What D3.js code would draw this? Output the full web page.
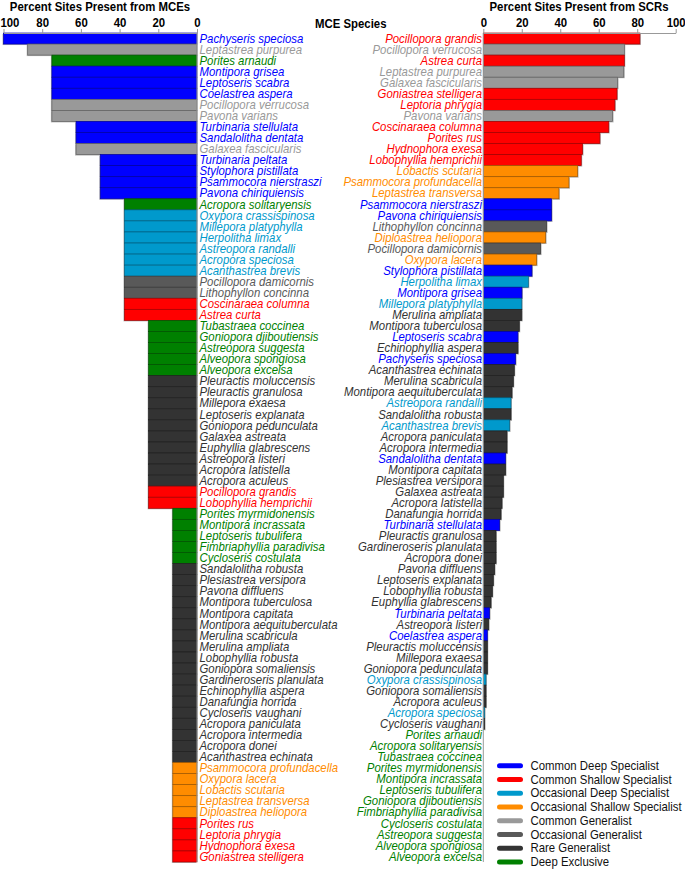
<!DOCTYPE html>
<html>
<head>
<meta charset="utf-8">
<script src="https://cdn.jsdelivr.net/npm/d3@7"></script>
<style>
  html, body { margin: 0; padding: 0; background: #fff; }
  svg { display: block; font-family: "Liberation Sans", Arial, sans-serif; }
</style>
</head>
<body>
<script>
// ---------- DATA ----------
const categories = ["Common Deep Specialist", "Common Shallow Specialist", "Occasional Deep Specialist",
  "Occasional Shallow Specialist", "Common Generalist", "Occasional Generalist", "Rare Generalist", "Deep Exclusive"];
const categoryCodes = ["CDS", "CSS", "ODS", "OSS", "CG", "OG", "RG", "DE"];
const categoryColors = ["#0000FF", "#FF0000", "#0099CC", "#FF8C00", "#999999", "#595959", "#333333", "#008000"];

const tickValues = [0, 20, 40, 60, 80, 100];

const mceSpecies = [
  "Pachyseris speciosa", "Leptastrea purpurea", "Porites arnaudi", "Montipora grisea", "Leptoseris scabra",
  "Coelastrea aspera", "Pocillopora verrucosa", "Pavona varians", "Turbinaria stellulata", "Sandalolitha dentata",
  "Galaxea fascicularis", "Turbinaria peltata", "Stylophora pistillata", "Psammocora nierstraszi", "Pavona chiriquiensis",
  "Acropora solitaryensis", "Oxypora crassispinosa", "Millepora platyphylla", "Herpolitha limax", "Astreopora randalli",
  "Acropora speciosa", "Acanthastrea brevis", "Pocillopora damicornis", "Lithophyllon concinna", "Coscinaraea columna",
  "Astrea curta", "Tubastraea coccinea", "Goniopora djiboutiensis", "Astreopora suggesta", "Alveopora spongiosa",
  "Alveopora excelsa", "Pleuractis moluccensis", "Pleuractis granulosa", "Millepora exaesa", "Leptoseris explanata",
  "Goniopora pedunculata", "Galaxea astreata", "Euphyllia glabrescens", "Astreopora listeri", "Acropora latistella",
  "Acropora aculeus", "Pocillopora grandis", "Lobophyllia hemprichii", "Porites myrmidonensis", "Montipora incrassata",
  "Leptoseris tubulifera", "Fimbriaphyllia paradivisa", "Cycloseris costulata", "Sandalolitha robusta", "Plesiastrea versipora",
  "Pavona diffluens", "Montipora tuberculosa", "Montipora capitata", "Montipora aequituberculata", "Merulina scabricula",
  "Merulina ampliata", "Lobophyllia robusta", "Goniopora somaliensis", "Gardineroseris planulata", "Echinophyllia aspera",
  "Danafungia horrida", "Cycloseris vaughani", "Acropora paniculata", "Acropora intermedia", "Acropora donei",
  "Acanthastrea echinata", "Psammocora profundacella", "Oxypora lacera", "Lobactis scutaria", "Leptastrea transversa",
  "Diploastrea heliopora", "Porites rus", "Leptoria phrygia", "Hydnophora exesa", "Goniastrea stelligera"
];
const mceValues = [
  100, 87.5, 75, 75, 75, 75, 75, 75, 62.5, 62.5,
  62.5, 50, 50, 50, 50, 37.5, 37.5, 37.5, 37.5, 37.5,
  37.5, 37.5, 37.5, 37.5, 37.5, 37.5, 25, 25, 25, 25,
  25, 25, 25, 25, 25, 25, 25, 25, 25, 25,
  25, 25, 25, 12.5, 12.5, 12.5, 12.5, 12.5, 12.5, 12.5,
  12.5, 12.5, 12.5, 12.5, 12.5, 12.5, 12.5, 12.5, 12.5, 12.5,
  12.5, 12.5, 12.5, 12.5, 12.5, 12.5, 12.5, 12.5, 12.5, 12.5,
  12.5, 12.5, 12.5, 12.5, 12.5
];
const mceGroups = [
  "CDS", "CG", "DE", "CDS", "CDS", "CDS", "CG", "CG", "CDS", "CDS",
  "CG", "CDS", "CDS", "CDS", "CDS", "DE", "ODS", "ODS", "ODS", "ODS",
  "ODS", "ODS", "OG", "OG", "CSS", "CSS", "DE", "DE", "DE", "DE",
  "DE", "RG", "RG", "RG", "RG", "RG", "RG", "RG", "RG", "RG",
  "RG", "CSS", "CSS", "DE", "DE", "DE", "DE", "DE", "RG", "RG",
  "RG", "RG", "RG", "RG", "RG", "RG", "RG", "RG", "RG", "RG",
  "RG", "RG", "RG", "RG", "RG", "RG", "OSS", "OSS", "OSS", "OSS",
  "OSS", "CSS", "CSS", "CSS", "CSS"
];

const scrSpecies = [
  "Pocillopora grandis", "Pocillopora verrucosa", "Astrea curta", "Leptastrea purpurea", "Galaxea fascicularis",
  "Goniastrea stelligera", "Leptoria phrygia", "Pavona varians", "Coscinaraea columna", "Porites rus",
  "Hydnophora exesa", "Lobophyllia hemprichii", "Lobactis scutaria", "Psammocora profundacella", "Leptastrea transversa",
  "Psammocora nierstraszi", "Pavona chiriquiensis", "Lithophyllon concinna", "Diploastrea heliopora", "Pocillopora damicornis",
  "Oxypora lacera", "Stylophora pistillata", "Herpolitha limax", "Montipora grisea", "Millepora platyphylla",
  "Merulina ampliata", "Montipora tuberculosa", "Leptoseris scabra", "Echinophyllia aspera", "Pachyseris speciosa",
  "Acanthastrea echinata", "Merulina scabricula", "Montipora aequituberculata", "Astreopora randalli", "Sandalolitha robusta",
  "Acanthastrea brevis", "Acropora paniculata", "Acropora intermedia", "Sandalolitha dentata", "Montipora capitata",
  "Plesiastrea versipora", "Galaxea astreata", "Acropora latistella", "Danafungia horrida", "Turbinaria stellulata",
  "Pleuractis granulosa", "Gardineroseris planulata", "Acropora donei", "Pavona diffluens", "Leptoseris explanata",
  "Lobophyllia robusta", "Euphyllia glabrescens", "Turbinaria peltata", "Astreopora listeri", "Coelastrea aspera",
  "Pleuractis moluccensis", "Millepora exaesa", "Goniopora pedunculata", "Oxypora crassispinosa", "Goniopora somaliensis",
  "Acropora aculeus", "Acropora speciosa", "Cycloseris vaughani", "Porites arnaudi", "Acropora solitaryensis",
  "Tubastraea coccinea", "Porites myrmidonensis", "Montipora incrassata", "Leptoseris tubulifera", "Goniopora djiboutiensis",
  "Fimbriaphyllia paradivisa", "Cycloseris costulata", "Astreopora suggesta", "Alveopora spongiosa", "Alveopora excelsa"
];
const scrValues = [
  81.4, 73.3, 73.3, 73.0, 69.8, 69.5, 68.4, 67.2, 65.2, 60.6,
  51.6, 50.9, 49.0, 44.5, 39.3, 35.5, 35.5, 32.9, 32.4, 29.8,
  27.7, 25.3, 23.4, 20.1, 20.0, 20.0, 18.7, 18.0, 18.0, 16.8,
  16.1, 15.6, 14.9, 14.4, 14.4, 13.7, 12.3, 12.3, 11.6, 11.6,
  10.4, 10.4, 9.7, 9.2, 8.5, 6.6, 6.6, 6.6, 5.9, 5.2,
  4.7, 4.0, 3.3, 2.8, 2.1, 2.1, 2.1, 2.1, 1.4, 1.4,
  1.4, 0.7, 0.7, 0, 0, 0, 0, 0, 0, 0,
  0, 0, 0, 0, 0
];

// ---------- LAYOUT ----------
const W = 685, H = 869;
const TOP = 33, BOTTOM = 862;
const FONT = "'Liberation Sans', Arial, sans-serif";
const SX = 0.95; // horizontal text compression

const colorOf = d3.scaleOrdinal(categoryCodes, categoryColors);
const groupOfSpecies = new Map(mceSpecies.map((s, i) => [s, mceGroups[i]]));

const svg = d3.select("body").append("svg").attr("width", W).attr("height", H);

const yL = d3.scaleBand(mceSpecies, [TOP, BOTTOM]).paddingInner(0);
const yR = d3.scaleBand(scrSpecies, [TOP, BOTTOM]).paddingInner(0);
const xL = d3.scaleLinear([0, 100], [197, 3.5]);
const xR = d3.scaleLinear([0, 100], [483.3, 675.7]);

function txt(g, x, y, s, opts = {}) {
  return g.append("text")
    .attr("transform", `translate(${x},${y}) scale(${SX},1)`)
    .attr("text-anchor", opts.anchor || "start")
    .attr("font-size", opts.size || 12)
    .attr("font-weight", opts.weight || "normal")
    .attr("font-style", opts.style || "normal")
    .attr("fill", opts.fill || "#000")
    .text(s);
}

// ---------- LEFT PANEL (MCE) ----------
const mceData = mceSpecies.map((s, i) => ({ s, v: mceValues[i], g: mceGroups[i] }));
const gL = svg.append("g");
gL.selectAll("rect.sh").data(mceData).join("rect")
  .attr("class", "sh")
  .attr("x", d => xL(d.v) - 1).attr("y", d => yL(d.s) + 1)
  .attr("width", d => xL(0) - xL(d.v)).attr("height", yL.bandwidth())
  .attr("fill", "#b8b8b8");
gL.selectAll("rect.bar").data(mceData).join("rect")
  .attr("class", "bar")
  .attr("x", d => xL(d.v)).attr("y", d => yL(d.s))
  .attr("width", d => xL(0) - xL(d.v)).attr("height", yL.bandwidth())
  .attr("fill", d => colorOf(d.g))
  .attr("stroke", d => d3.color(colorOf(d.g)).darker(1.3))
  .attr("stroke-width", 0.7);

const axL = svg.append("g").attr("transform", `translate(0,${TOP})`)
  .call(d3.axisTop(xL).tickValues(tickValues).tickSize(4).tickPadding(2).tickSizeOuter(0));
axL.select(".domain").attr("stroke", "#999");
axL.selectAll(".tick line").attr("stroke", "#999");
axL.selectAll(".tick text")
  .attr("font-family", FONT).attr("font-size", 12).attr("font-weight", "bold").attr("fill", "#000")
  .attr("transform", `scale(${SX},1)`);
axL.selectAll(".tick text").filter(d => d === 100).attr("text-anchor", "start").attr("x", -3.8);
svg.append("line").attr("x1", xL(0)).attr("x2", xL(0)).attr("y1", TOP).attr("y2", BOTTOM)
  .attr("stroke", "#999").attr("stroke-width", 1);

mceData.forEach(d => {
  txt(gL, 199.5, yL(d.s) + yL.bandwidth() / 2 + 4.2, d.s,
    { style: "italic", fill: colorOf(d.g) });
});

// ---------- RIGHT PANEL (SCR) ----------
const scrData = scrSpecies.map((s, i) => ({ s, v: scrValues[i], g: groupOfSpecies.get(s) }));
const gR = svg.append("g");
gR.selectAll("rect.sh").data(scrData.filter(d => d.v > 0)).join("rect")
  .attr("class", "sh")
  .attr("x", xR(0) + 1).attr("y", d => yR(d.s) + 1)
  .attr("width", d => xR(d.v) - xR(0)).attr("height", yR.bandwidth())
  .attr("fill", "#b8b8b8");
gR.selectAll("rect.bar").data(scrData.filter(d => d.v > 0)).join("rect")
  .attr("class", "bar")
  .attr("x", xR(0)).attr("y", d => yR(d.s))
  .attr("width", d => xR(d.v) - xR(0)).attr("height", yR.bandwidth())
  .attr("fill", d => colorOf(d.g))
  .attr("stroke", d => d3.color(colorOf(d.g)).darker(1.3))
  .attr("stroke-width", 0.7);

const axR = svg.append("g").attr("transform", `translate(0,${TOP})`)
  .call(d3.axisTop(xR).tickValues(tickValues).tickSize(4).tickPadding(2).tickSizeOuter(0));
axR.select(".domain").attr("stroke", "#999");
axR.selectAll(".tick line").attr("stroke", "#999");
axR.selectAll(".tick text")
  .attr("font-family", FONT).attr("font-size", 12).attr("font-weight", "bold").attr("fill", "#000")
  .attr("transform", `scale(${SX},1)`);
svg.append("line").attr("x1", xR(0)).attr("x2", xR(0)).attr("y1", TOP).attr("y2", BOTTOM)
  .attr("stroke", "#999").attr("stroke-width", 1);

scrData.forEach(d => {
  txt(gR, 482, yR(d.s) + yR.bandwidth() / 2 + 4.2, d.s,
    { anchor: "end", style: "italic", fill: colorOf(d.g) });
});

// ---------- TITLES ----------
txt(svg, 100, 10.8, "Percent Sites Present from MCEs", { anchor: "middle", weight: "bold", size: 12 });
txt(svg, 579, 10.8, "Percent Sites Present from SCRs", { anchor: "middle", weight: "bold", size: 12 });
txt(svg, 315, 28, "MCE Species", { weight: "bold", size: 12 });

// ---------- LEGEND ----------
const legend = svg.append("g");
const legY = d3.scalePoint(categories, [765.7, 862]);
categories.forEach((c, i) => {
  const yy = legY(c);
  legend.append("line")
    .attr("x1", 499.5).attr("x2", 520.5).attr("y1", yy).attr("y2", yy)
    .attr("stroke", categoryColors[i]).attr("stroke-width", 5).attr("stroke-linecap", "round");
  txt(legend, 530.5, yy + 4.2, c, { size: 12, fill: "#111" });
});
</script>
</body>
</html>
